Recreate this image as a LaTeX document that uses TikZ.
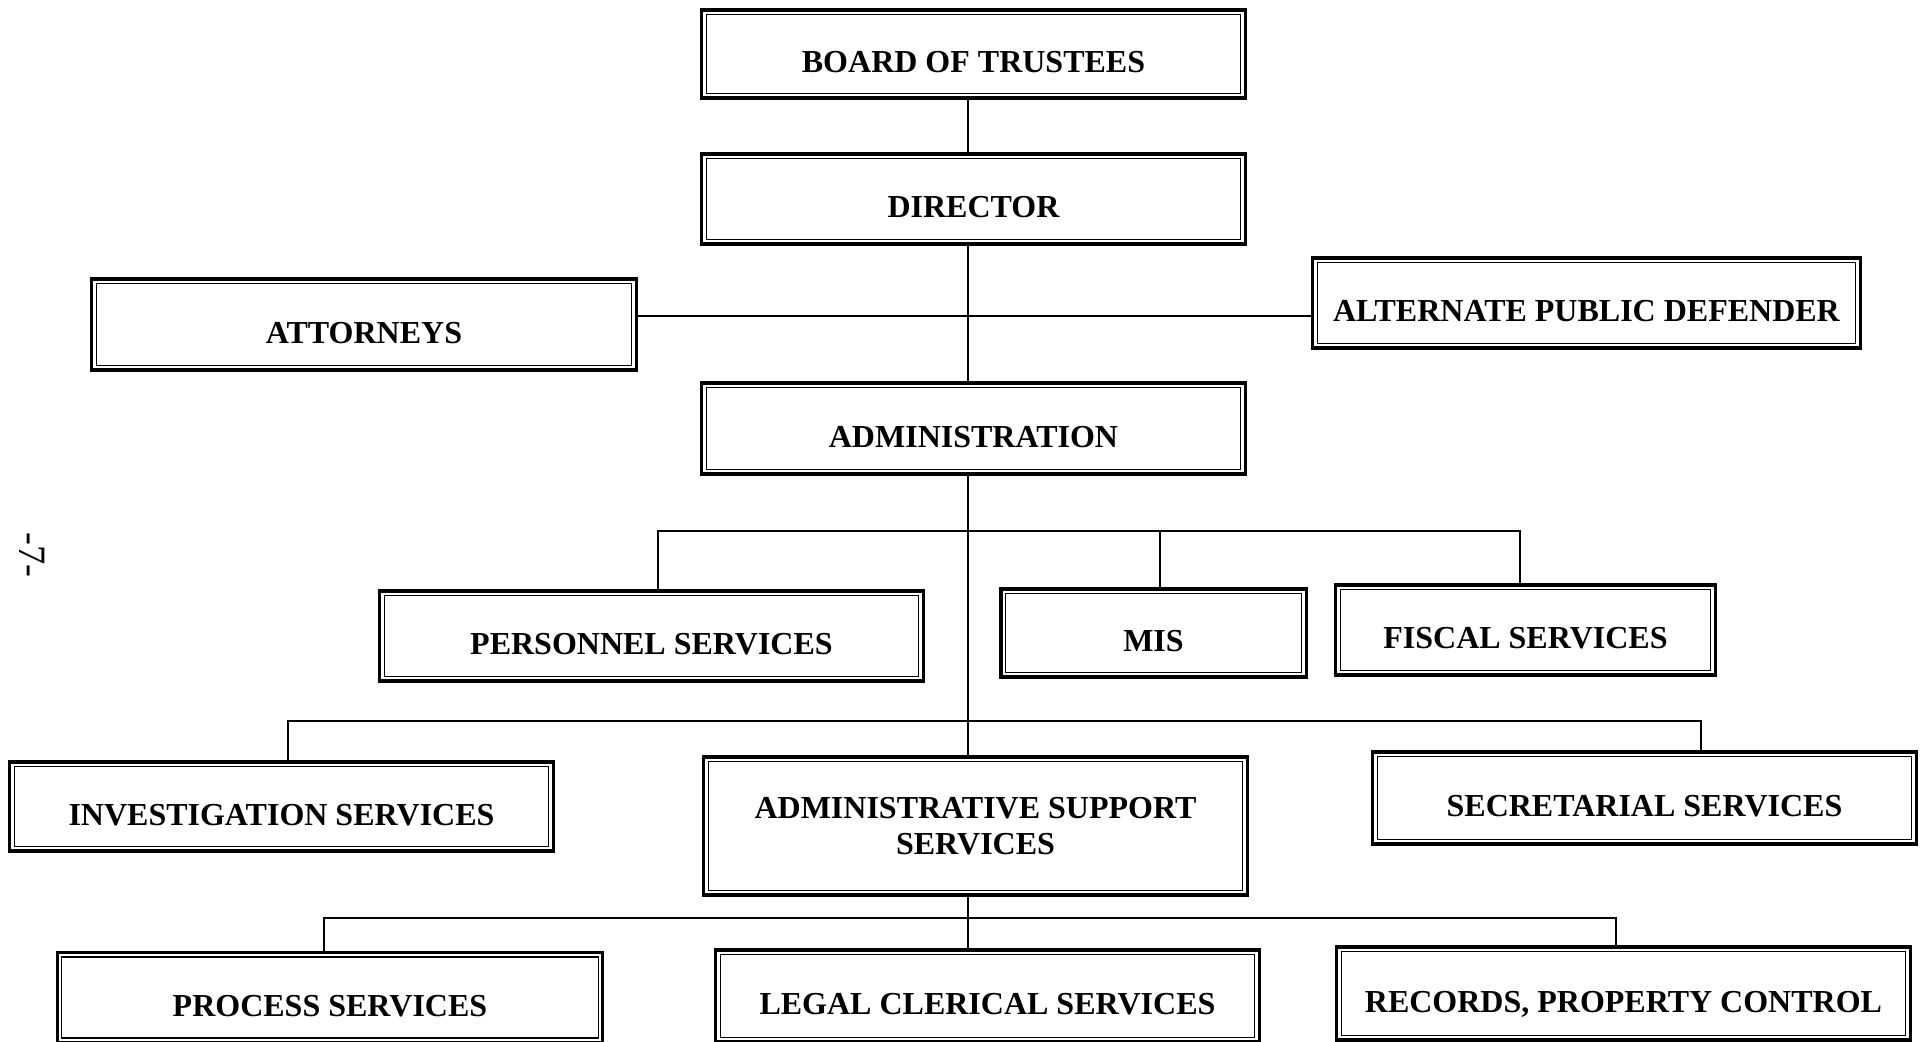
\documentclass[tikz,border=0pt]{standalone}
\usepackage{fontspec}
\setmainfont{Liberation Serif}
\begin{document}
\begin{tikzpicture}[x=0.01cm,y=-0.01cm,
  box/.style={draw, line width=0.9pt, inner sep=0pt, outer sep=0pt, align=center,
    font=\bfseries\fontsize{9.1pt}{10.2pt}\selectfont,
    path picture={\draw[line width=0.35pt]
      ([shift={(0.045cm,-0.045cm)}]path picture bounding box.north west) rectangle
      ([shift={(-0.045cm,0.045cm)}]path picture bounding box.south east);}},
  one/.style={text height=0.37cm, text depth=0pt},
  link/.style={line width=0.5pt}]
\useasboundingbox (0,0) rectangle (1920,1042);

% boxes
\node[box,one,minimum width=5.43cm,minimum height=0.88cm] (board) at (973.5,54) {BOARD OF TRUSTEES};
\node[box,one,minimum width=5.43cm,minimum height=0.90cm] (director) at (973.5,199) {DIRECTOR};
\node[box,one,minimum width=5.44cm,minimum height=0.91cm] (attorneys) at (364,324.5) {ATTORNEYS};
\node[box,one,minimum width=5.47cm,minimum height=0.90cm] (apd) at (1586.5,303) {ALTERNATE PUBLIC DEFENDER};
\node[box,one,minimum width=5.43cm,minimum height=0.91cm] (admin) at (973.5,428.5) {ADMINISTRATION};
\node[box,one,minimum width=5.43cm,minimum height=0.90cm] (personnel) at (651.5,636) {PERSONNEL SERVICES};
\node[box,one,minimum width=3.05cm,minimum height=0.88cm] (mis) at (1153.5,633) {MIS};
\node[box,one,minimum width=3.79cm,minimum height=0.90cm] (fiscal) at (1525.5,630) {FISCAL SERVICES};
\node[box,one,minimum width=5.43cm,minimum height=0.89cm] (invest) at (281.5,806.5) {INVESTIGATION SERVICES};
\node[box,minimum width=5.43cm,minimum height=1.38cm] (support) at (975.5,826) {ADMINISTRATIVE SUPPORT\\SERVICES};
\node[box,one,minimum width=5.43cm,minimum height=0.92cm] (secret) at (1644.5,798) {SECRETARIAL SERVICES};
\node[box,one,minimum width=5.45cm,minimum height=0.90cm] (process) at (330,997.5) {PROCESS SERVICES};
\node[box,one,minimum width=5.43cm,minimum height=0.92cm] (legal) at (987.5,996) {LEGAL CLERICAL SERVICES};
\node[box,one,minimum width=5.73cm,minimum height=0.93cm] (records) at (1623.5,993.5) {RECORDS, PROPERTY CONTROL};

% page number
\node[rotate=-90, inner sep=0pt, font=\fontsize{11pt}{12pt}\selectfont] (pg) at (32,555) {-7-};

% trunk and bus levels
\coordinate (t) at (968,0);
\coordinate (hl) at (0,316);
\coordinate (b1) at (0,531);
\coordinate (b2) at (0,721);
\coordinate (b3) at (0,918);
\coordinate (dp) at (658,0);
\coordinate (dm) at (1160,0);
\coordinate (df) at (1520,0);
\coordinate (di) at (288,0);
\coordinate (ds) at (1701,0);
\coordinate (dpr) at (324,0);
\coordinate (dr) at (1616,0);

% connectors
\draw[link] (board.south -| t) -- (director.north -| t);
\draw[link] (director.south -| t) -- (admin.north -| t);
\draw[link] (attorneys.east |- hl) -- (apd.west |- hl);
\draw[link] (admin.south -| t) -- (support.north -| t);
\draw[link] (personnel.north -| dp) -- (b1 -| dp) -- (b1 -| df) -- (fiscal.north -| df);
\draw[link] (b1 -| dm) -- (mis.north -| dm);
\draw[link] (invest.north -| di) -- (b2 -| di) -- (b2 -| ds) -- (secret.north -| ds);
\draw[link] (support.south -| t) -- (legal.north -| t);
\draw[link] (process.north -| dpr) -- (b3 -| dpr) -- (b3 -| dr) -- (records.north -| dr);
\end{tikzpicture}
\end{document}
